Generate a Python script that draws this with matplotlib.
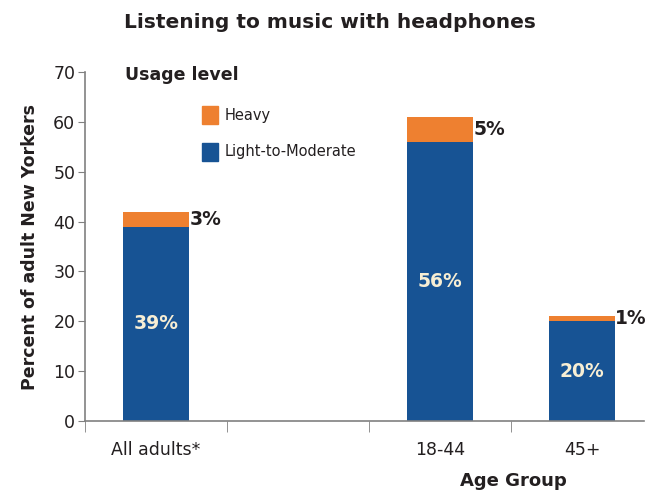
import matplotlib
matplotlib.use("Agg")
import matplotlib.pyplot as plt
from matplotlib.patches import Patch

plt.rcParams['font.family'] = ['DejaVu Sans']

positions = [0, 2, 3]
tick_labels = ["All adults*", "18-44", "45+"]
light_moderate = [39, 56, 20]
heavy = [3, 5, 1]
yticks = [0, 10, 20, 30, 40, 50, 60, 70]

blue = "#175394"
orange = "#ee8030"
cream = "#f7eed4"
dark = "#231f20"

fig = plt.figure(figsize=(6.46, 4.96), dpi=100)
ax = fig.add_axes([0.1316, 0.151, 0.866, 0.704])

w = 0.46
ax.bar(positions, light_moderate, width=w, color=blue, label="Light-to-Moderate", zorder=2)
ax.bar(positions, heavy, width=w, bottom=light_moderate, color=orange, label="Heavy", zorder=2)

for x, lm, hv in zip(positions, light_moderate, heavy):
    ax.text(x, lm / 2, f"{lm}%", ha="center", va="center", color=cream,
            fontsize=13.5, fontweight="bold")
    ax.text(x + w / 2 + 0.005, lm + hv / 2, f"{hv}%", ha="left", va="center", color=dark,
            fontsize=13.5, fontweight="bold")

ax.set_xlim(-0.5, 3.44)
ax.set_ylim(0, 70)
ax.set_yticks(yticks)
ax.set_yticklabels([str(v) for v in yticks], fontsize=12.5, color=dark)
ax.set_xticks([0, 2, 3])
ax.set_xticklabels(tick_labels, fontsize=12.5, color=dark)
ax.tick_params(axis="x", length=0, pad=14)
ax.set_xticks([-0.5, 0.5, 1.5, 2.5], minor=True)
ax.tick_params(axis="x", which="minor", length=8, color="#808080", direction="out")
ax.tick_params(axis="y", length=5, color="#808080", direction="out", pad=2)

for s in ["top", "right"]:
    ax.spines[s].set_visible(False)
for s in ["left", "bottom"]:
    ax.spines[s].set_color("#808080")
    ax.spines[s].set_linewidth(1.2)

ax.set_ylabel("Percent of adult New Yorkers", fontsize=12.5, fontweight="bold", color=dark, labelpad=10)
fig.text(0.795, 0.03, "Age Group", fontsize=13, fontweight="bold", color=dark, ha="center", va="center")
fig.text(0.51, 0.955, "Listening to music with headphones", fontsize=14.5, fontweight="bold",
         color=dark, ha="center", va="center")

fig.text(0.193, 0.848, "Usage level", fontsize=12.5, fontweight="bold", color=dark, ha="left", va="center")
handles = [Patch(color=orange, label="Heavy"), Patch(color=blue, label="Light-to-Moderate")]
leg = ax.legend(handles=handles, loc="upper left", bbox_to_anchor=(0.185, 0.94), frameon=False,
                fontsize=10.5, handlelength=1.15, handleheight=1.5, handletextpad=0.4,
                labelspacing=1.3, labelcolor=dark)

fig.savefig("out.png", dpi=100)
